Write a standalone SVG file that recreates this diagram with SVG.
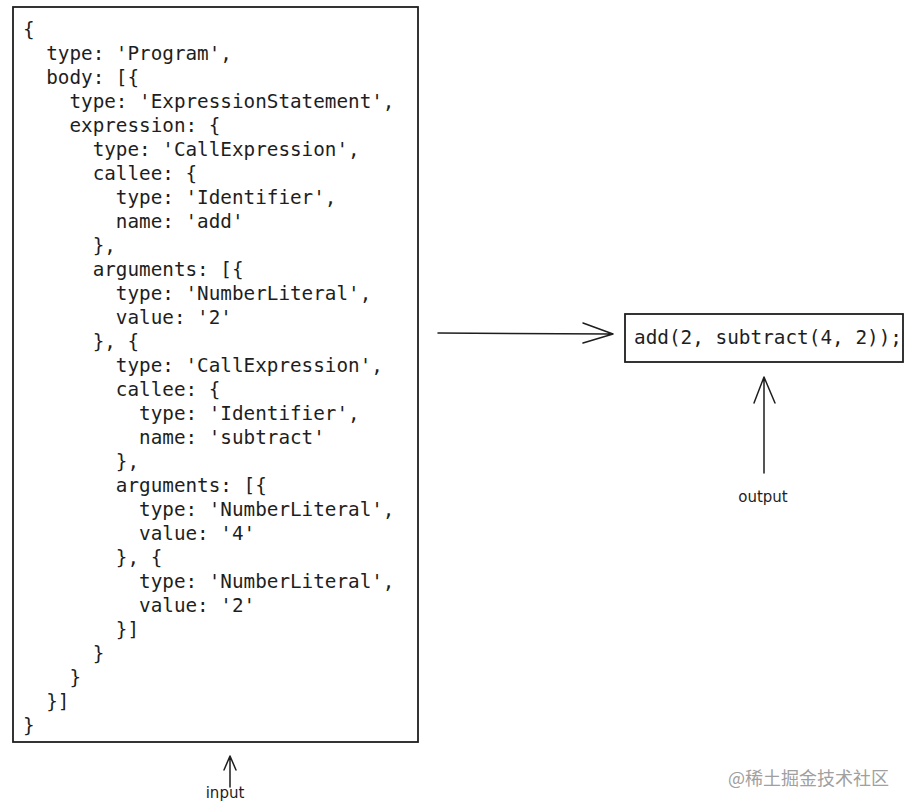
<svg xmlns="http://www.w3.org/2000/svg" width="911" height="811" viewBox="0 0 911 811">
<style>
.code{font-family:"DejaVu Sans Mono","Liberation Mono",monospace;font-size:19.3px;fill:#1e1e1e;white-space:pre}
.box{fill:#fff;stroke:#1e1e1e;stroke-width:1.8}
.conn{fill:none;stroke:#1e1e1e;stroke-width:1.5;stroke-linecap:round;stroke-linejoin:round}
.hand{font-family:"DejaVu Sans","Liberation Sans",sans-serif;font-size:15px;fill:#1e1e1e}
.wm{font-family:"Noto Sans CJK SC","Noto Sans",sans-serif;font-size:18px;fill:#a0a0a0}
</style>
<rect width="911" height="811" fill="#fff"/>
<g id="input-ast">
<rect class="box" x="13" y="7" width="405" height="735"/>
<text class="code" xml:space="preserve">
<tspan x="23" y="36">{</tspan>
<tspan x="23" y="60">  type: 'Program',</tspan>
<tspan x="23" y="84">  body: [{</tspan>
<tspan x="23" y="108">    type: 'ExpressionStatement',</tspan>
<tspan x="23" y="132">    expression: {</tspan>
<tspan x="23" y="156">      type: 'CallExpression',</tspan>
<tspan x="23" y="180">      callee: {</tspan>
<tspan x="23" y="204">        type: 'Identifier',</tspan>
<tspan x="23" y="228">        name: 'add'</tspan>
<tspan x="23" y="252">      },</tspan>
<tspan x="23" y="276">      arguments: [{</tspan>
<tspan x="23" y="300">        type: 'NumberLiteral',</tspan>
<tspan x="23" y="324">        value: '2'</tspan>
<tspan x="23" y="348">      }, {</tspan>
<tspan x="23" y="372">        type: 'CallExpression',</tspan>
<tspan x="23" y="396">        callee: {</tspan>
<tspan x="23" y="420">          type: 'Identifier',</tspan>
<tspan x="23" y="444">          name: 'subtract'</tspan>
<tspan x="23" y="468">        },</tspan>
<tspan x="23" y="492">        arguments: [{</tspan>
<tspan x="23" y="516">          type: 'NumberLiteral',</tspan>
<tspan x="23" y="540">          value: '4'</tspan>
<tspan x="23" y="564">        }, {</tspan>
<tspan x="23" y="588">          type: 'NumberLiteral',</tspan>
<tspan x="23" y="612">          value: '2'</tspan>
<tspan x="23" y="636">        }]</tspan>
<tspan x="23" y="660">      }</tspan>
<tspan x="23" y="684">    }</tspan>
<tspan x="23" y="708">  }]</tspan>
<tspan x="23" y="732">}</tspan>
</text>
</g>
<g id="output-code">
<rect class="box" x="625" y="314" width="278" height="48"/>
<text class="code" x="634" y="344" textLength="268" lengthAdjust="spacingAndGlyphs">add(2, subtract(4, 2));</text>
</g>
<g id="connectors">
<path class="conn" d="M438 333 L612 334 M583 323 L613 334 L583 343"/>
<path class="conn" d="M764 473 L764 377 M754 403 L764 377 L775 403"/>
<path class="conn" d="M230 787 L230 756 M224 770 L230 756 L236 770"/>
</g>
<g id="labels">
<text class="hand" x="763" y="502" text-anchor="middle">output</text>
<text class="hand" x="225" y="798" text-anchor="middle">input</text>
</g>
<text class="wm" x="728" y="785">@稀土掘金技术社区</text>
</svg>
